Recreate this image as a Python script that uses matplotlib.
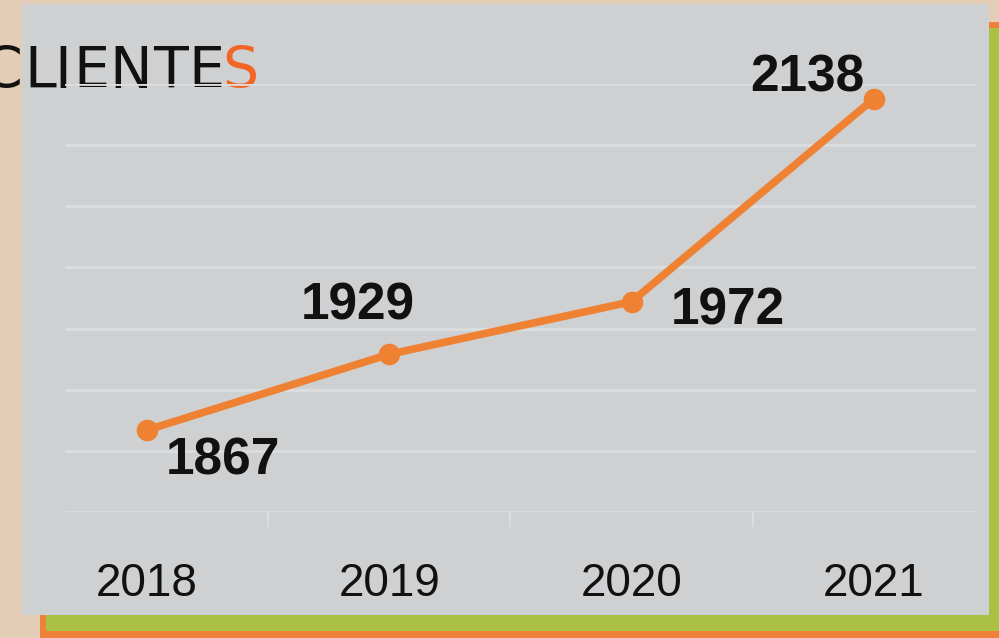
import matplotlib.pyplot as plt
from matplotlib.patches import Rectangle

years = ["2018", "2019", "2020", "2021"]
clients = [1867, 1929, 1972, 2138]
# label offsets (points) for each data label
label_offsets = [(55, -22), (-23, 35), (69, -7), (-48, 15)]
grid_values = [1800, 1850, 1900, 1950, 2000, 2050, 2100, 2150]

title_letters = list("CLIENTES")
title_centers = [3, 40, 63, 91, 131, 171, 206, 240]

fig = plt.figure(figsize=(9.99, 6.38), dpi=100)
fig.patch.set_facecolor("#e3cdb6")

# decorative background layers in pixel coordinates
bg = fig.add_axes([0, 0, 1, 1], zorder=0)
bg.set_xlim(0, 999)
bg.set_ylim(638, 0)
bg.axis("off")
bg.add_patch(Rectangle((40, 22), 1000, 700, facecolor="#ee8139", edgecolor="none"))
bg.add_patch(Rectangle((46, 28), 1000, 603, facecolor="#abc143", edgecolor="none"))
bg.add_patch(Rectangle((22, 4), 967, 611, facecolor="#cfd0d2", edgecolor="none"))

title_font = ["Liberation Sans Narrow", "DejaVu Sans"]
for i, (ch, cx) in enumerate(zip(title_letters, title_centers)):
    col = "#f26524" if i == len(title_letters) - 1 else "#111111"
    bg.text(cx, 88, ch, ha="center", va="baseline", fontsize=41,
            family=title_font, color=col)

ax = fig.add_axes([65 / 999, 126 / 638, 911 / 999, 428 / 638], zorder=1)
ax.set_facecolor("none")
x = list(range(len(years)))
ax.plot(x, clients, color="#ef8133", lw=5.5, marker="o", markersize=14.5,
        solid_capstyle="round", clip_on=False, zorder=3)

for xi, v, off in zip(x, clients, label_offsets):
    ax.annotate(str(v), (xi, v), xytext=off, textcoords="offset points",
                ha="center", va="center", fontsize=37, fontweight="bold",
                family="Liberation Sans", color="#111111", annotation_clip=False)

ax.set_xlim(-0.338, 3.421)
ax.set_ylim(1800, 2150)
ax.set_yticks(grid_values)
ax.yaxis.grid(True, color="#dcdddf", lw=2)
ax.tick_params(axis="y", length=0, labelleft=False)
ax.set_xticks(x)
ax.set_xticklabels(years, fontsize=33, family="Liberation Sans", color="#111111")
ax.set_xticks([0.5, 1.5, 2.5], minor=True)
ax.tick_params(axis="x", which="major", length=0, pad=36)
ax.tick_params(axis="x", which="minor", length=11, width=1.5, color="#dcdddf")
for s in ax.spines.values():
    s.set_visible(False)
ax.set_axisbelow(True)

fig.savefig("out.png", dpi=100, facecolor=fig.get_facecolor())
